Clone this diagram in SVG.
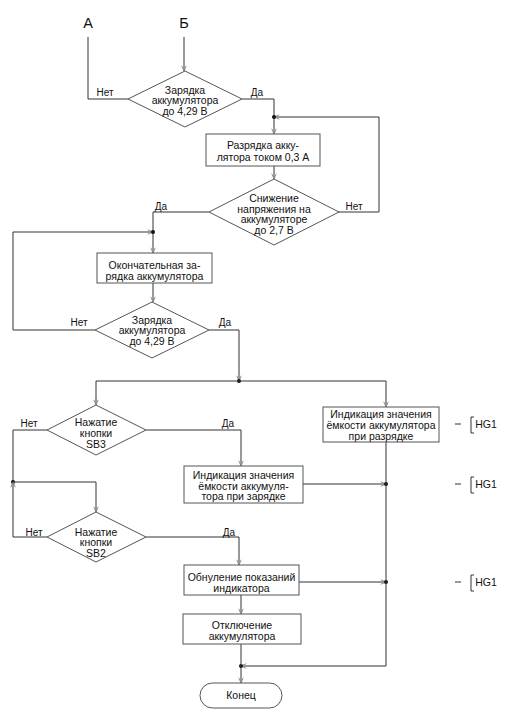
<svg xmlns="http://www.w3.org/2000/svg" width="509" height="720" viewBox="0 0 509 720">
<defs>
<marker id="arr" viewBox="0 0 8 8" refX="8" refY="4" markerWidth="6" markerHeight="6" markerUnits="userSpaceOnUse" orient="auto">
<path d="M1,1 L8,4 L1,7" fill="none" stroke="#888" stroke-width="1.2"/>
</marker>
<style>
text{font-family:"Liberation Sans",Arial,sans-serif;font-size:10.5px;fill:#111;text-anchor:middle}
.lbl{font-size:10px}
.big{font-size:14.5px}
.shape{fill:#fff;stroke:#555;stroke-width:1}
.c{fill:none;stroke:#333;stroke-width:1}
.a{marker-end:url(#arr)}
.dot{fill:#111}
.hg{fill:none;stroke:#333;stroke-width:1}
</style>
</defs>
<rect width="509" height="720" fill="#fff"/>

<g id="connectors">
<path class="c a" d="M184,37 V71"/>
<path class="c" d="M88,37 V99 H128"/>
<path class="c a" d="M242,99 H274 V134"/>
<path class="c a" d="M338,212 H379 V117 H274"/>
<circle class="dot" cx="274" cy="117" r="2"/>
<path class="c a" d="M274,166 V179"/>
<path class="c a" d="M209,212 H153 V253"/>
<path class="c a" d="M95,330 H13 V232 H153"/>
<circle class="dot" cx="153" cy="232" r="2"/>
<path class="c a" d="M153,283 V302"/>
<path class="c a" d="M209,330 H239 V381"/>
<circle class="dot" cx="239" cy="381" r="2"/>
<path class="c" d="M96,381 H386"/>
<path class="c a" d="M96,381 V405"/>
<path class="c a" d="M386,381 V407"/>
<path class="c" d="M47,430 H13 V482"/>
<circle class="dot" cx="13" cy="482" r="2"/>
<path class="c a" d="M13,482 H96 V512"/>
<path class="c a" d="M47,537 H13 V482"/>
<path class="c a" d="M146,430 H241 V466"/>
<path class="c a" d="M146,537 H239 V565"/>
<path class="c a" d="M303,484 H386"/>
<circle class="dot" cx="386" cy="484" r="2"/>
<path class="c a" d="M299,582 H386"/>
<circle class="dot" cx="386" cy="582" r="2"/>
<path class="c a" d="M386,442 V666 H241"/>
<circle class="dot" cx="241" cy="666" r="2"/>
<path class="c a" d="M241,595 V614"/>
<path class="c a" d="M241,644 V683"/>
</g>

<g id="labelA"><text class="big" x="88" y="28">А</text></g>
<g id="labelB"><text class="big" x="184" y="28">Б</text></g>

<g id="d1">
<polygon class="shape" points="185,71 242,99 185,127 128,99"/>
<text x="185" y="93.5">Зарядка</text>
<text x="185" y="104">аккумулятора</text>
<text x="185" y="114.5">до 4,29 В</text>
<text class="lbl" x="105" y="96">Нет</text>
<text class="lbl" x="257" y="96">Да</text>
</g>

<g id="b1">
<rect class="shape" x="206" y="134" width="114" height="32"/>
<text x="263" y="148.5">Разрядка акку-</text>
<text x="263" y="160.5">лятора током 0,3 А</text>
</g>

<g id="d2">
<polygon class="shape" points="274,179 339,212 274,245 209,212"/>
<text x="274" y="202">Снижение</text>
<text x="274" y="212.5">напряжения на</text>
<text x="274" y="223">аккумуляторе</text>
<text x="274" y="233.5">до 2,7 В</text>
<text class="lbl" x="354" y="210">Нет</text>
<text class="lbl" x="161" y="210">Да</text>
</g>

<g id="b2">
<rect class="shape" x="97" y="253" width="115" height="30"/>
<text x="154.5" y="268.5">Окончательная за-</text>
<text x="154.5" y="279.5">рядка аккумулятора</text>
</g>

<g id="d3">
<polygon class="shape" points="152,302 209,330 152,358 95,330"/>
<text x="152" y="323.5">Зарядка</text>
<text x="152" y="334">аккумулятора</text>
<text x="152" y="344.5">до 4,29 В</text>
<text class="lbl" x="79" y="326">Нет</text>
<text class="lbl" x="225" y="326">Да</text>
</g>

<g id="d4">
<polygon class="shape" points="96,405 146,430 96,455 47,430"/>
<text x="96" y="425.5">Нажатие</text>
<text x="96" y="436.5">кнопки</text>
<text x="96" y="448">SB3</text>
<text class="lbl" x="29" y="427">Нет</text>
<text class="lbl" x="228" y="427">Да</text>
</g>

<g id="b_discharge">
<rect class="shape" x="323" y="407" width="116" height="35"/>
<text x="381" y="417.5">Индикация значения</text>
<text x="381" y="428.5">ёмкости аккумулятора</text>
<text x="381" y="439.5">при разрядке</text>
</g>

<g id="b3">
<rect class="shape" x="184" y="466" width="119" height="37"/>
<text x="243.5" y="478.5">Индикация значения</text>
<text x="243.5" y="489.5">ёмкости аккумуля-</text>
<text x="243.5" y="500">тора при зарядке</text>
</g>

<g id="d5">
<polygon class="shape" points="96,512 146,537 96,562 47,537"/>
<text x="96" y="535.5">Нажатие</text>
<text x="96" y="546">кнопки</text>
<text x="96" y="556.5">SB2</text>
<text class="lbl" x="34" y="536">Нет</text>
<text class="lbl" x="229" y="536">Да</text>
</g>

<g id="b4">
<rect class="shape" x="184" y="565" width="115" height="30"/>
<text x="241.5" y="580.5">Обнуление показаний</text>
<text x="241.5" y="591.5">индикатора</text>
</g>

<g id="b5">
<rect class="shape" x="183" y="614" width="118" height="30"/>
<text x="242" y="628.5">Отключение</text>
<text x="242" y="639.5">аккумулятора</text>
</g>

<g id="end">
<rect class="shape" x="200" y="683" width="82" height="25" rx="12.5" ry="12.5"/>
<text x="241" y="699">Конец</text>
</g>

<g id="hg1_a">
<path class="hg" d="M455,424 H461 M474,417 H471 V433 H474"/>
<text x="486" y="428">HG1</text>
</g>
<g id="hg1_b">
<path class="hg" d="M455,484 H461 M474,477 H471 V493 H474"/>
<text x="486" y="488">HG1</text>
</g>
<g id="hg1_c">
<path class="hg" d="M455,582 H461 M474,575 H471 V591 H474"/>
<text x="486" y="586">HG1</text>
</g>
</svg>
